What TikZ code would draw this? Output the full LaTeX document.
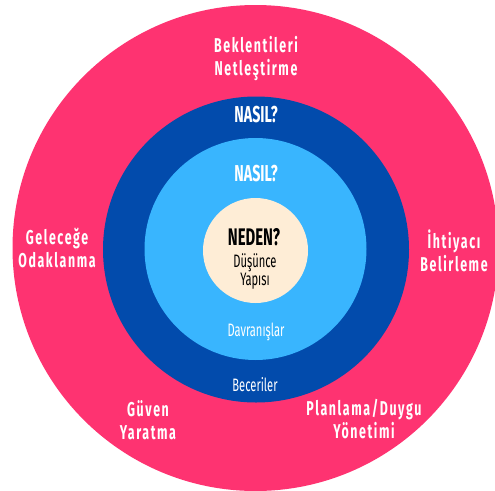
\documentclass[tikz,border=0pt]{standalone}
\usepackage{fontspec}
\setmainfont{Fira Sans}
\newfontfamily\narrowfont[FakeStretch=0.62]{Fira Sans}
\newfontfamily\spacedfont[FakeStretch=0.62,LetterSpace=8]{Fira Sans}
\usepackage{tikz}

\definecolor{ringpink}{HTML}{FE3371}
\definecolor{ringdark}{HTML}{024BAC}
\definecolor{ringlight}{HTML}{39B5FE}
\definecolor{corecream}{HTML}{FEEDD6}

\begin{document}
\begin{tikzpicture}
  [x=1pt,y=-1pt,
   ring/.style={circle,inner sep=0pt},
   outerlabel/.style={text=white,align=center,font=\spacedfont\bfseries\fontsize{20}{23}\selectfont},
   asklabel/.style={text=white,font=\narrowfont\bfseries\fontsize{23}{26}\selectfont},
   smalllabel/.style={text=white,font=\narrowfont\fontsize{18}{19}\selectfont}]
  \useasboundingbox (0,0) rectangle (495,490);
  \clip (0,0) rectangle (495,490);

  % rings
  \node[ring,fill=ringpink,minimum size=486pt]  (outer) at (255.5,248) {};
  \node[ring,fill=ringdark,minimum size=306pt]  (skill) at (256,249.5) {};
  \node[ring,fill=ringlight,minimum size=222pt] (behav) at (255.5,249) {};
  \node[ring,fill=corecream,minimum size=105pt] (core)  at (255.5,250.5) {};

  % core
  \node[font=\narrowfont\bfseries\fontsize{24}{26}\selectfont] (neden) at (254,237) {NEDEN?};
  \node[align=center,font=\narrowfont\fontsize{18}{18}\selectfont] (dusunce) at (255,272) {Düşünce\\Yapısı};

  % inner rings
  \node[asklabel] (nasilA) at (256,115) {NASIL?};
  \node[asklabel] (nasilB) at (256,174) {NASIL?};
  \node[smalllabel] (davran) at (256,332) {Davranışlar};
  \node[smalllabel] (becer)  at (255,385) {Beceriler};

  % outer ring
  \node[outerlabel] (beklenti) at (256,59)  {Beklentileri\\Netleştirme};
  \node[outerlabel] (gelecek)  at (57,248)  {Geleceğe\\Odaklanma};
  \node[outerlabel] (ihtiyac)  at (454,251) {İhtiyacı\\Belirleme};
  \node[outerlabel] (guven)    at (148,420) {Güven\\Yaratma};
  \node[outerlabel] (planlama) at (364,419) {Planlama/Duygu\\Yönetimi};
\end{tikzpicture}
\end{document}
